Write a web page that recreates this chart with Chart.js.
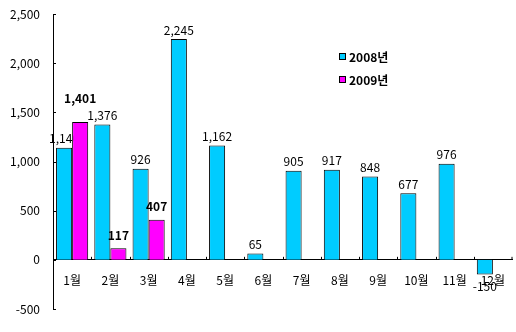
<!DOCTYPE html>
<html>
<head>
  <meta charset="utf-8">
  <title>월별 추이</title>
  <script src="https://cdn.jsdelivr.net/npm/chart.js"></script>
  <style>
    html, body { margin: 0; padding: 0; background: #fff; }
    .wrap { width: 516px; height: 332px; }
  </style>
</head>
<body>
<div class="wrap"><canvas id="chart" width="516" height="332"></canvas></div>
<script>
  const months = ['1월', '2월', '3월', '4월', '5월', '6월', '7월', '8월', '9월', '10월', '11월', '12월'];
  const series2008 = [1140, 1376, 926, 2245, 1162, 65, 905, 917, 848, 677, 976, -150];
  const series2009 = [1401, 117, 407, null, null, null, null, null, null, null, null, null];
  const seriesNames = ['2008년', '2009년'];
  const yTicks = [-500, 0, 500, 1000, 1500, 2000, 2500];

  const FONT = "'Noto Sans CJK KR', 'DejaVu Sans', sans-serif";
  const fmt = v => v.toLocaleString('en-US');

  function drawLabels(chart, di) {
    const ctx = chart.ctx;
    const ds = chart.data.datasets[di];
    const meta = chart.getDatasetMeta(di);
    ctx.save();
    ctx.textAlign = 'center';
    ctx.fillStyle = '#000';
    ctx.font = (di === 1 ? 'bold ' : '') + '12px ' + FONT;
    meta.data.forEach((bar, i) => {
      const v = ds.data[i];
      if (v === null || v === undefined) return;
      if (v < 0) {
        ctx.textBaseline = 'top';
        ctx.fillText(fmt(v), bar.x, bar.y + 6);
      } else {
        ctx.textBaseline = 'bottom';
        let gap = di === 1 ? 7 : 3;
        // lift the 2009 label when it would run into the next 2008 label
        if (di === 1 && Math.abs(v - series2008[i + 1]) < 150) gap = 18;
        ctx.fillText(fmt(v), bar.x, bar.y - gap);
      }
    });
    ctx.restore();
  }

  // 2008 labels go under the bars (the 2009 bar hides part of "1,140"), 2009 labels on top
  const valueLabels = {
    id: 'valueLabels',
    beforeDatasetsDraw(chart) { drawLabels(chart, 0); },
    afterDatasetsDraw(chart) { drawLabels(chart, 1); }
  };

  // small marks on the axes + legend box inside the plot
  const axisMarks = {
    id: 'axisMarks',
    afterDraw(chart) {
      const ctx = chart.ctx;
      const x = chart.scales.x, y = chart.scales.y;
      const y0 = y.getPixelForValue(0);
      ctx.save();
      ctx.strokeStyle = '#000';
      ctx.lineWidth = 1;
      ctx.beginPath();
      for (let i = 1; i <= months.length; i++) {
        const px = Math.round((x.getPixelForValue(i - 1) + x.getPixelForValue(i)) / 2) + 0.5;
        const bx = i === months.length ? x.right : px;
        ctx.moveTo(bx, y0 - 3);
        ctx.lineTo(bx, y0);
      }
      yTicks.forEach(t => {
        const py = Math.round(y.getPixelForValue(t)) + 0.5;
        ctx.moveTo(y.right, py);
        ctx.lineTo(y.right + 3, py);
      });
      ctx.stroke();

      // legend
      ctx.font = 'bold 12px ' + FONT;
      ctx.textBaseline = 'middle';
      ctx.textAlign = 'left';
      chart.data.datasets.forEach((ds, di) => {
        const lx = 339, ly = 57 + di * 23;
        ctx.fillStyle = ds.backgroundColor;
        ctx.fillRect(lx, ly - 3, 6, 6);
        ctx.strokeRect(lx + 0.5, ly - 3.5, 6, 6);
        ctx.fillStyle = '#000';
        ctx.fillText(ds.label, lx + 10, ly);
      });
      ctx.restore();
    }
  };

  new Chart(document.getElementById('chart'), {
    type: 'bar',
    data: {
      labels: months,
      datasets: [
        { label: seriesNames[0], data: series2008, backgroundColor: '#00CCFF', borderColor: '#000', borderWidth: 1 },
        { label: seriesNames[1], data: series2009, backgroundColor: '#FF00FF', borderColor: '#000', borderWidth: 1 }
      ]
    },
    options: {
      responsive: false,
      animation: false,
      devicePixelRatio: 1,
      layout: { padding: { top: 14, right: 4, bottom: 23, left: 0 } },
      datasets: { bar: { categoryPercentage: 0.84, barPercentage: 1.0 } },
      plugins: { legend: { display: false }, tooltip: { enabled: false } },
      scales: {
        x: {
          position: { y: 0 },
          grid: { display: false },
          border: { display: true, color: '#000', width: 1 },
          ticks: { color: '#000', font: { family: FONT, size: 12 }, padding: 5, maxRotation: 0, autoSkip: false }
        },
        y: {
          min: -500,
          max: 2500,
          afterFit: s => { s.width = 53; },
          afterBuildTicks: s => { s.ticks = yTicks.map(v => ({ value: v })); },
          grid: { display: false },
          border: { display: true, color: '#000', width: 1 },
          ticks: { color: '#000', font: { family: FONT, size: 12 }, padding: 5, callback: v => fmt(v) }
        }
      }
    },
    plugins: [valueLabels, axisMarks]
  });
</script>
</body>
</html>
